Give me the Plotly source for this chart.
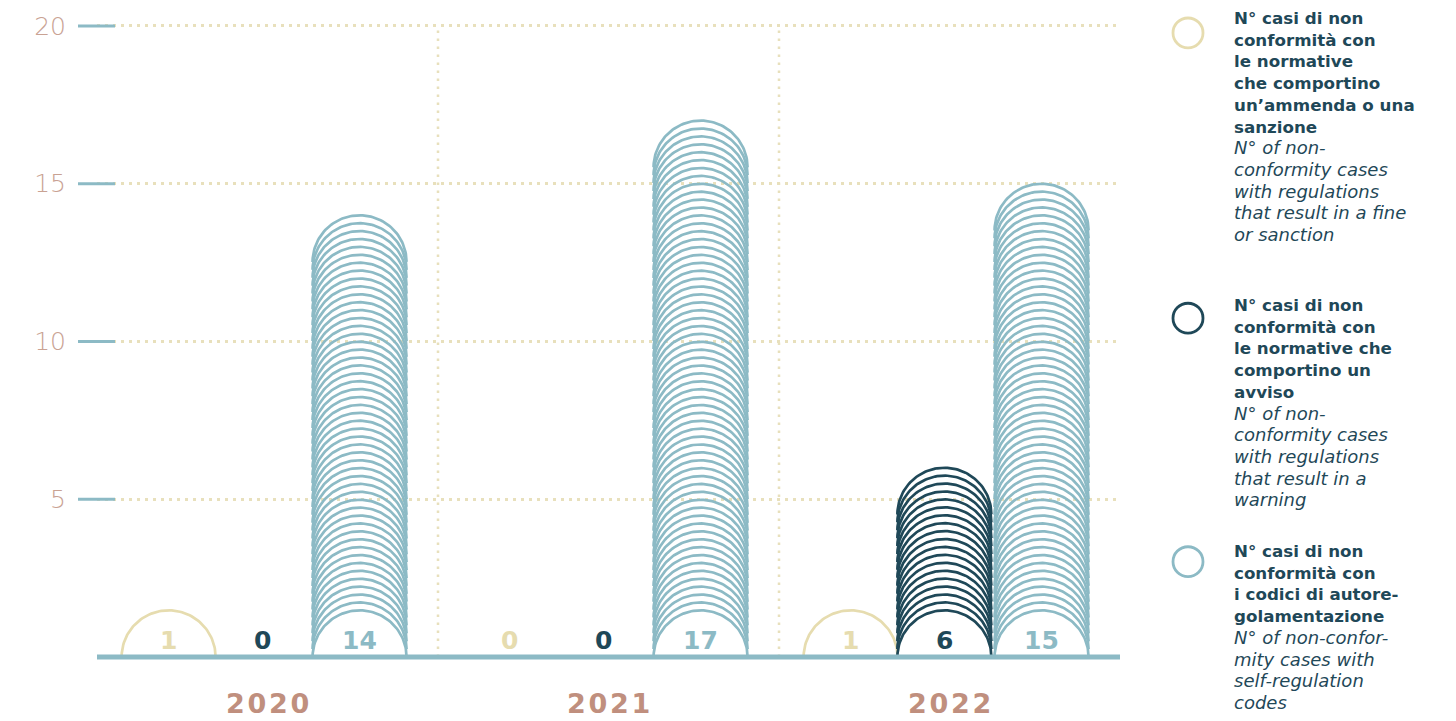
import numpy as np
import plotly.graph_objects as go

# ---- data -----------------------------------------------------------------
years = ["2020", "2021", "2022"]
fines_or_sanctions = [1, 0, 1]
warnings = [0, 0, 6]
self_regulation = [14, 17, 15]

series_values = [fines_or_sanctions, warnings, self_regulation]
series_colors = ["#E6DCAF", "#1F4858", "#8CBAC5"]
series_bold = [
    "N° casi di non<br>conformità con<br>le normative<br>che comportino<br>un’ammenda o una<br>sanzione",
    "N° casi di non<br>conformità con<br>le normative che<br>comportino un<br>avviso",
    "N° casi di non<br>conformità con<br>i codici di autore-<br>golamentazione",
]
series_italic = [
    "N° of non-<br>conformity cases<br>with regulations<br>that result in a fine<br>or sanction",
    "N° of non-<br>conformity cases<br>with regulations<br>that result in a<br>warning",
    "N° of non-confor-<br>mity cases with<br>self-regulation<br>codes",
]
y_ticks = [5, 10, 15, 20]

# ---- geometry ---------------------------------------------------------------
W, H = 1456, 721
ML, MR, MT, MB = 97, 336, 14, 56
plot_w = W - ML - MR
plot_h = H - MT - MB
Y0_PX, Y20_PX = 657, 22          # pixel rows of value 0 and value 20
px_y = (Y0_PX - Y20_PX) / 20
y_range = [-(H - MB - Y0_PX) / px_y, 20 + (Y20_PX - MT) / px_y]
x_range = [-0.5, 2.5]
px_x = plot_w / (x_range[1] - x_range[0])


def paper_x(px):
    return (px - ML) / plot_w


def paper_y(py):
    return (H - MB - py) / plot_h


ARC_R = 47                  # arc radius in pixels
rx = ARC_R / px_x
ry = ARC_R / px_y
ARC_STEP = 0.25             # vertical spacing between stacked arcs (data units)
bar_offsets = [-0.29, -0.015, 0.27]

TEAL = "#8CBAC5"
GRID = "#E8E0BC"
DARK = "#1F4858"
TICK_TXT = "#C9A293"
YEAR_TXT = "#C08F7E"
DOTS = "2.5px,5.5px"


def arc_stack(xc, value):
    """Semicircle outlines stacked upward; the top of the stack sits at value."""
    xs, ys = [], []
    if value <= 0:
        return xs, ys
    top_center = max(value - ry, 0.0)
    n = int(round(top_center / ARC_STEP))
    centers = np.linspace(0, top_center, n + 1) if n > 0 else [0.0]
    theta = np.linspace(0, np.pi, 72)
    for c in centers:
        xs.extend(list(xc + rx * np.cos(theta)) + [None])
        ys.extend(list(c + ry * np.sin(theta)) + [None])
    return xs, ys


fig = go.Figure()

for s, (vals, col) in enumerate(zip(series_values, series_colors)):
    ax, ay = [], []
    for g, v in enumerate(vals):
        xs, ys = arc_stack(g + bar_offsets[s], v)
        ax += xs
        ay += ys
    fig.add_trace(go.Scatter(
        x=ax, y=ay, mode="lines",
        line=dict(color=col, width=2.7),
        hoverinfo="skip", showlegend=False,
    ))

# value labels at the foot of every bar
annotations = []
for s, (vals, col) in enumerate(zip(series_values, series_colors)):
    for g, v in enumerate(vals):
        annotations.append(dict(
            x=g + bar_offsets[s], y=0.54, xref="x", yref="y",
            text=str(v), showarrow=False,
            font=dict(family="DejaVu Sans", size=25, color=col, weight="bold"),
        ))

# year labels under each group
for g, yr in enumerate(years):
    annotations.append(dict(
        x=g, y=paper_y(704), xref="x", yref="paper", yanchor="middle",
        text="\u200a".join(yr), showarrow=False, borderpad=0,
        font=dict(family="DejaVu Sans", size=27, color=YEAR_TXT, weight="bold"),
    ))

shapes = []
# dotted separators between the year groups
for xv in [0.5, 1.5]:
    shapes.append(dict(
        type="line", xref="x", yref="y", x0=xv, x1=xv, y0=0, y1=20,
        line=dict(color=GRID, width=2.5, dash=DOTS), layer="below",
    ))
# teal tick marks on the value axis
for t in y_ticks:
    shapes.append(dict(
        type="line", xref="paper", yref="y",
        x0=paper_x(78), x1=paper_x(115), y0=t, y1=t,
        line=dict(color=TEAL, width=3), layer="above",
    ))
# baseline
shapes.append(dict(
    type="line", xref="paper", yref="y", x0=0, x1=1, y0=0, y1=0,
    line=dict(color=TEAL, width=5), layer="above",
))

# legend: open circles with bilingual descriptions
legend_circle_y = [29, 316, 561]
legend_text_top = [2, 291, 538]
for col, cy, ty, bold, ital in zip(series_colors, legend_circle_y, legend_text_top,
                                    series_bold, series_italic):
    r = 15
    shapes.append(dict(
        type="circle", xref="paper", yref="paper",
        x0=paper_x(1188 - r), x1=paper_x(1188 + r),
        y0=paper_y(cy + r), y1=paper_y(cy - r),
        line=dict(color=col, width=2.8),
    ))
    annotations.append(dict(
        x=paper_x(1232), y=paper_y(ty),
        xref="paper", yref="paper", xanchor="left", yanchor="top",
        align="left", showarrow=False,
        text=f"<b>{bold}</b><br><i><span style='font-size:18px'>{ital}</span></i>",
        font=dict(family="DejaVu Sans", size=16.7, color=DARK),
    ))

fig.update_layout(
    width=W, height=H,
    margin=dict(l=ML, r=MR, t=MT, b=MB),
    plot_bgcolor="white", paper_bgcolor="white",
    showlegend=False,
    annotations=annotations,
    shapes=shapes,
    xaxis=dict(
        range=x_range, showticklabels=False, showgrid=False,
        zeroline=False, showline=False, ticks="", fixedrange=True,
    ),
    yaxis=dict(
        range=y_range, tickvals=y_ticks, ticktext=[str(t) for t in y_ticks],
        showgrid=True, gridcolor=GRID, gridwidth=2.5, griddash=DOTS,
        zeroline=False, showline=False, ticks="",
        ticklabelstandoff=30,
        tickfont=dict(family="DejaVu Sans", size=25, color=TICK_TXT, weight=300),
        fixedrange=True,
    ),
)

fig.write_html("out.html")
